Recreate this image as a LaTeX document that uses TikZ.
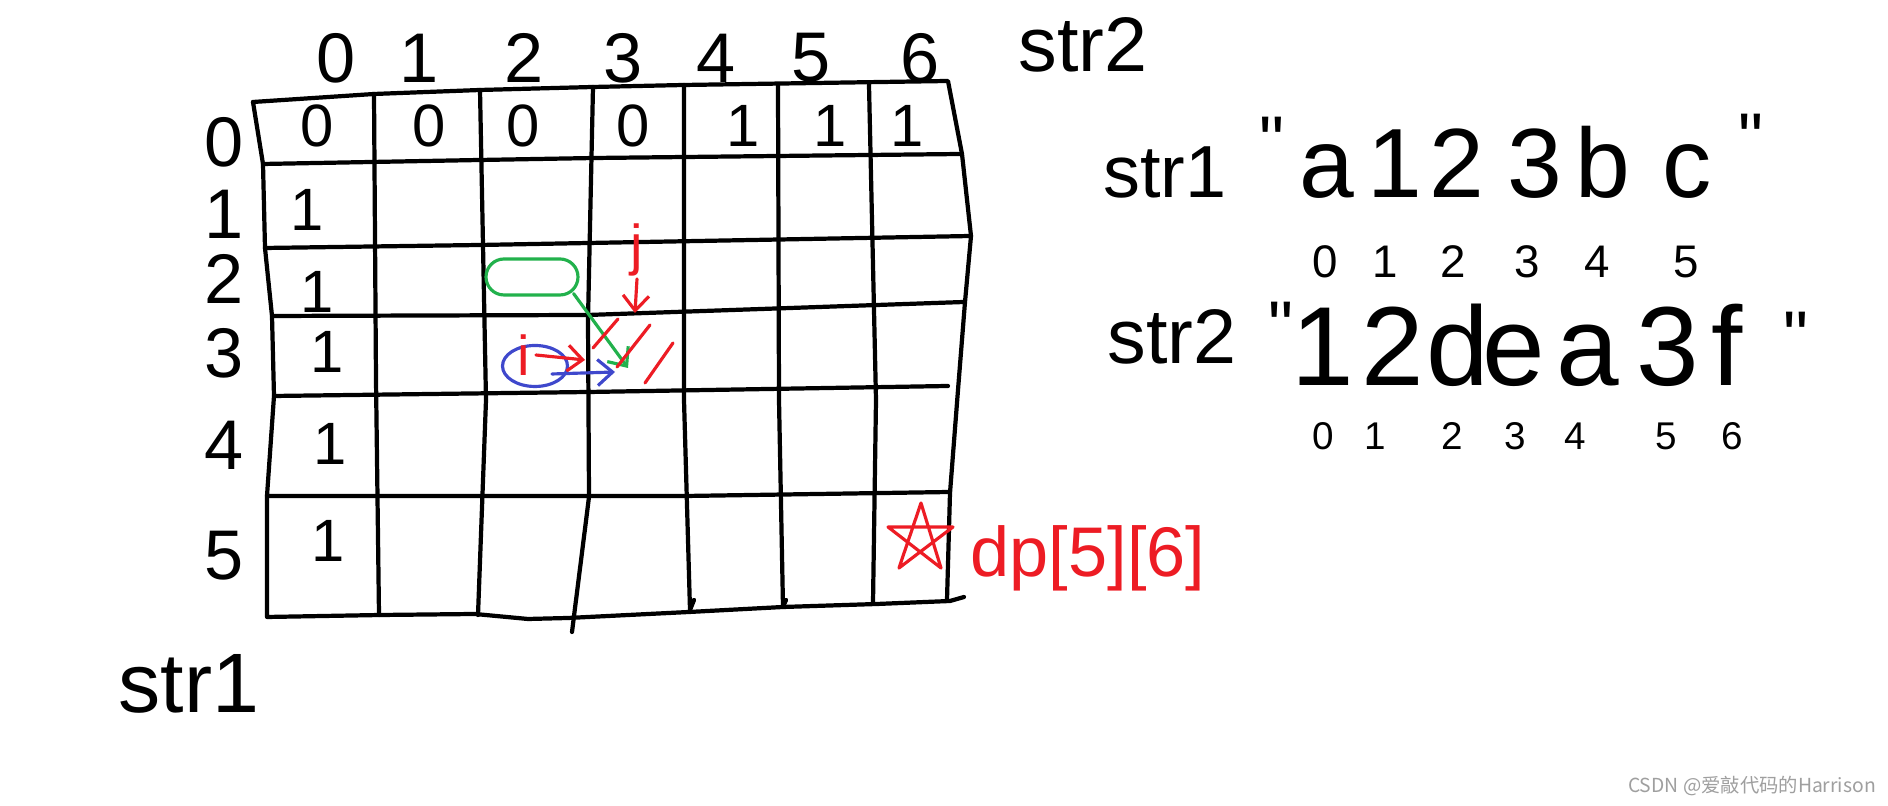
\documentclass[tikz,border=0pt]{standalone}
\usepackage{fontspec}
\setmainfont{Liberation Sans}
\newfontfamily\cjk{Noto Sans CJK SC}
\usetikzlibrary{arrows.meta,shapes.geometric}
\definecolor{pred}{HTML}{ED1C24}
\definecolor{pgreen}{HTML}{22B14C}
\definecolor{pblue}{HTML}{3F48CC}

\begin{document}
\begin{tikzpicture}[x=0.1mm,y=-0.1mm,
  ink/.style={line width=1.2pt,line cap=round,line join=round},
  pen/.style={line width=0.9pt,line cap=round,line join=round},
  tip/.style={-{Straight Barb[length=1.5mm,width=2.6mm]}},
  num/.style={font=\fontsize{20}{20}\selectfont},
  val/.style={font=\fontsize{17}{17}\selectfont},
  chr/.style={anchor=base,font=\fontsize{#1}{#1}\selectfont},
  idx/.style={font=\fontsize{#1}{#1}\selectfont}]
\path[fill=white,use as bounding box] (0,0) rectangle (1888,806);

% the table, drawn by hand
\draw[ink] (253,102) -- (374,94) -- (480,90) -- (593,87) -- (684,85) -- (948,81)
  -- (962,154) -- (971,236) -- (965,302) -- (958,390) -- (950,493) -- (947,600);
\draw[ink] (253,102) -- (263,164) -- (265,248) -- (272,316) -- (274,396) -- (267,496) -- (267,617)
  -- (381,615) -- (475,614) -- (528,619) -- (568,618) -- (689,612) -- (783,607)
  -- (877,604) -- (950,601) -- (964,597);
\draw[ink] (263,164) -- (480,160) -- (595,158) -- (961,154);
\draw[ink] (265,248) -- (480,245) -- (971,236);
\draw[ink] (272,316) -- (588,315) -- (964,302);
\draw[ink] (274,396) -- (589,392) -- (948,386);
\draw[ink] (267,496) -- (686,496) -- (950,492);
\draw[ink] (374,94) -- (376,380) -- (379,615);
\draw[ink] (480,90) -- (486,400) -- (478,615);
\draw[ink] (593,87) -- (588,320) -- (589,497) -- (572,632);
\draw[ink] (684,85) -- (684,400) -- (690,610) -- (694,600);
\draw[ink] (778,85) -- (779,400) -- (783,607) -- (786,600);
\draw[ink] (869,85) -- (876,400) -- (873,603);

% indices of str2 and str1
\foreach \n/\x in {0/336,1/419,2/524,3/623,4/716,5/811,6/920}
  \node[num] (h\n) at (\x,58) {\n};
\node[font=\fontsize{22}{22}\selectfont] (top) at (1083,45) {str2};
\foreach \n/\y in {0/142,1/214,2/279,3/353,4/445,5/556}
  \node[num] (r\n) at (224,\y) {\n};
\node[font=\fontsize{24}{24}\selectfont] (side) at (189,684) {str1};

% values
\foreach \n/\x/\v in {0/317/0,1/429/0,2/523/0,3/633/0,4/743/1,5/830/1,6/907/1}
  \node[val] (v0\n) at (\x,126) {\v};
\foreach \n/\x/\y in {1/307/210,2/317/292,3/327/352,4/330/444,5/328/541}
  \node[val] (v\n0) at (\x,\y) {1};

% i, j
\node[pblue,draw,pen,ellipse,minimum width=6.5mm,minimum height=4.1mm,inner sep=0pt] (iring) at (535,366) {};
\node[pred,inner sep=0pt,font=\fontsize{16}{16}\selectfont] (ilab) at (524,355) {i};
\node[pred,inner sep=0pt,font=\fontsize{16}{16}\selectfont] (jlab) at (637,250) {j};
\node[pgreen,draw,pen,rounded corners=1.8mm,minimum width=9.2mm,minimum height=3.6mm] (blob) at (532,277) {};
\coordinate (itip) at (585,360);
\coordinate (jtip) at (635,313);
\coordinate (btip) at (615,372);
\coordinate (gtip) at (628,368);
\draw[pen,tip,pred] ([xshift=0.5mm]ilab.east) -- (itip);
\draw[pen,tip,pred] ([yshift=-0.2mm]jlab.south) -- (jtip);
\draw[pen,tip,pblue] ([shift={(17,8)}]iring.center) -- (btip);
\draw[pen,tip,pgreen] ([xshift=-0.6mm,yshift=0.3mm]blob.south east) -- (gtip);
\draw[pen,pred] (593,348) -- (618,319);
\draw[pen,pred] (617,367) -- (650,325);
\draw[pen,pred] (645,383) -- (673,343);

% answer
\draw[pen,pred] (921,503) -- (941,568) -- (888,527) -- (953,527) -- (899,568) -- cycle;
\node[pred,font=\fontsize{20}{20}\selectfont] (dp) at (1088,558) {dp[5][6]};

% the two strings
\node[chr=21] (s1) at (1165,198) {str1};
\node[chr=20] (q1) at (1272,166) {\textquotedbl};
\foreach \c/\x [count=\n] in {a/1327,1/1395,2/1457,3/1535,b/1603,c/1687}
  \node[chr=28] (sa\n) at (\x,198) {\c};
\node[chr=20] (q2) at (1751,163) {\textquotedbl};
\foreach \c/\x in {0/1325,1/1385,2/1453,3/1527,4/1597,5/1686}
  \node[idx=13] (ia\c) at (\x,262) {\c};
\node[chr=22] (s2) at (1172,364) {str2};
\node[chr=20] (q3) at (1281,351) {\textquotedbl};
\foreach \c/\x [count=\n] in {1/1323,2/1393,d/1458,e/1514,a/1588,3/1668,f/1727}
  \node[chr=32] (sb\n) at (\x,386) {\c};
\node[chr=20] (q4) at (1796,361) {\textquotedbl};
\foreach \c/\x in {0/1323,1/1375,2/1452,3/1515,4/1575,5/1666,6/1732}
  \node[idx=11] (ib\c) at (\x,436) {\c};

\node[gray!75,font=\cjk\fontsize{5.5}{6}\selectfont] (mark) at (1752,786) {CSDN @爱敲代码的Harrison};
\end{tikzpicture}
\end{document}
